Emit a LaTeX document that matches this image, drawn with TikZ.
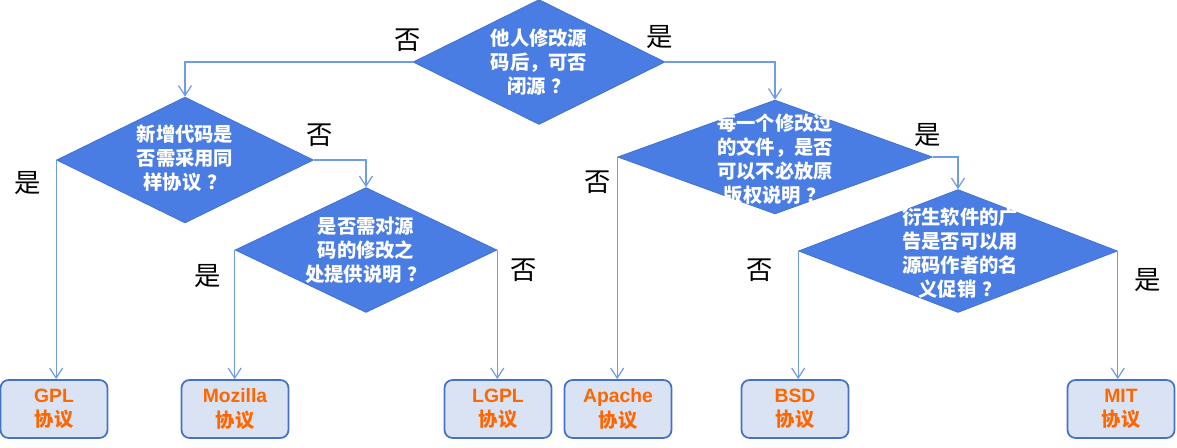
\documentclass[tikz,border=0pt]{standalone}
\usepackage{fontspec}
\setmainfont{Liberation Sans}
\newfontfamily\cjk{Noto Sans CJK SC}
\usetikzlibrary{shapes.geometric,arrows.meta}
\definecolor{askblue}{HTML}{4A7DE3}
\definecolor{askline}{HTML}{3F6FD0}
\definecolor{linkblue}{HTML}{6E9CEC}
\definecolor{boxfill}{HTML}{DAE3F3}
\definecolor{boxline}{HTML}{4472C4}
\definecolor{licorange}{HTML}{FF6600}
\newcommand{\qmark}{\hspace{0.3em}？}
\tikzset{
	ask/.style 2 args={diamond, draw=askline, fill=askblue, inner sep=0pt, minimum width=#1cm, minimum height=#2cm},
	asktext/.style={text=white, font=\cjk\bfseries\fontsize{11}{13.6}\selectfont, align=center, inner sep=0pt},
	licence/.style={draw=boxline, line width=1pt, fill=boxfill, rounded corners=0.16cm, minimum width=2.14cm, minimum height=1.16cm, inner sep=0pt, text=licorange, font=\bfseries\fontsize{11}{14}\selectfont, align=center},
	link/.style={draw=linkblue, line width=0.7pt, -{Straight Barb[length=2mm,width=2.6mm]}},
	yesno/.style={font=\cjk\fontsize{15}{18}\selectfont, text=black, inner sep=0pt}
}
\begin{document}
\begin{tikzpicture}[x=0.02cm, y=-0.02cm]
	\useasboundingbox (0,0) rectangle (1177,447);
	% questions
	\node[ask={5.04}{2.5}] (q1) at (539,62) {};
	\node[ask={5.14}{2.52}] (q2) at (185,160) {};
	\node[ask={5.24}{2.5}] (q3) at (366,250) {};
	\node[ask={6.3}{2.28}] (q4) at (775,157) {};
	\node[ask={6.38}{2.46}] (q5) at (958,251) {};
	\node[asktext] (q1t) at (539,62) {他人修改源\\码后，可否\\闭源\qmark};
	\node[asktext] (q2t) at (185,158) {新增代码是\\否需采用同\\样协议\qmark};
	\node[asktext] (q3t) at (366,250) {是否需对源\\码的修改之\\处提供说明\qmark};
	\node[asktext] (q4t) at (775,159) {每一个修改过\\的文件，是否\\可以不必放原\\版权说明\qmark};
	\node[asktext] (q5t) at (960,253) {衍生软件的广\\告是否可以用\\源码作者的名\\义促销\qmark};
	% licences
	\node[licence] (gpl) at (54,409) {GPL\\{\cjk 协议}};
	\node[licence] (mozilla) at (235,409) {Mozilla\\{\cjk 协议}};
	\node[licence] (lgpl) at (498,409) {LGPL\\{\cjk 协议}};
	\node[licence] (apache) at (618,409) {Apache\\{\cjk 协议}};
	\node[licence] (bsd) at (795,409) {BSD\\{\cjk 协议}};
	\node[licence] (mit) at (1121,409) {MIT\\{\cjk 协议}};
	% connectors
	\draw[link] (q1.west) -| (q2.north);
	\draw[link] (q1.east) -| (q4.north);
	\draw[link] (q2.west) -- (q2.west |- gpl.north);
	\draw[link] (q2.east) -| (q3.north);
	\draw[link] (q3.west) -- (q3.west |- mozilla.north);
	\draw[link] (q3.east) -- (q3.east |- lgpl.north);
	\draw[link] (q4.west) -- (q4.west |- apache.north);
	\draw[link] (q4.east) -| (q5.north);
	\draw[link] (q5.west) -- (q5.west |- bsd.north);
	\draw[link] (q5.east) -- (q5.east |- mit.north);
	% answers
	\node[yesno] (n1) at (408,40) {否};
	\node[yesno] (y1) at (660,37) {是};
	\node[yesno] (n2) at (320,135) {否};
	\node[yesno] (y2) at (28,183) {是};
	\node[yesno] (y3) at (208,276) {是};
	\node[yesno] (n3) at (524,270) {否};
	\node[yesno] (n4) at (598,182) {否};
	\node[yesno] (y4) at (928,135) {是};
	\node[yesno] (n5) at (760,270) {否};
	\node[yesno] (y5) at (1148,280) {是};
\end{tikzpicture}
\end{document}
